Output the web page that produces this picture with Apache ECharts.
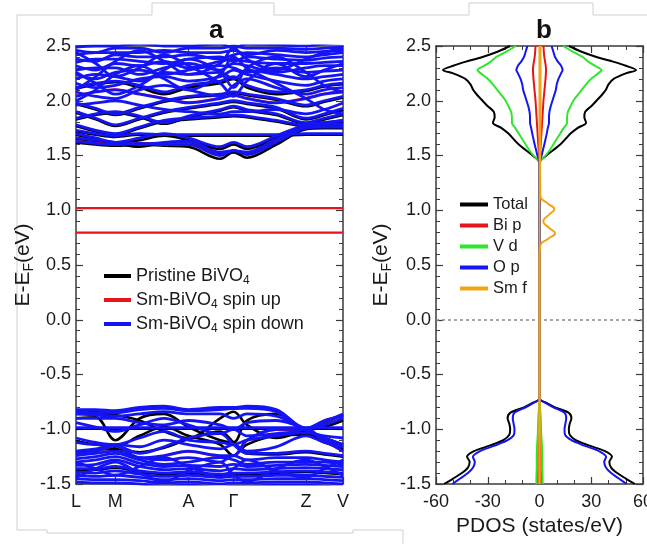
<!DOCTYPE html>
<html lang="en">
<head>
  <meta charset="UTF-8">
  <title>Band structure and PDOS</title>
  <script src="https://cdn.jsdelivr.net/npm/echarts@6/dist/echarts.min.js"></script>
  <style>
    html, body { margin: 0; padding: 0; background: #fff; }
    #chart { width: 647px; height: 544px; }
  </style>
</head>
<body>
  <div id="chart"></div>
  <script>
    // k-path (fraction of path length) and high-symmetry points
    const kPath = [0, 0.074, 0.147, 0.238, 0.33, 0.421, 0.54, 0.59, 0.64, 0.75, 0.861, 0.93, 1.0];
    const kTicks = [0, 0.147, 0.421, 0.59, 0.861, 1.0];
    const kLabels = ['L', 'M', 'A', 'Γ', 'Z', 'V'];

    // Sm-BiVO4 spin down bands (blue)
    const downBands = [
      [1.63, 1.61, 1.60, 1.61, 1.60, 1.60, 1.50, 1.545, 1.51, 1.62, 1.75, 1.76, 1.76],
      [1.66, 1.64, 1.62, 1.60, 1.62, 1.63, 1.53, 1.545, 1.53, 1.65, 1.76, 1.78, 1.79],
      [1.70, 1.66, 1.62, 1.66, 1.70, 1.66, 1.58, 1.62, 1.58, 1.68, 1.78, 1.80, 1.82],
      [1.73, 1.70, 1.68, 1.70, 1.69, 1.69, 1.69, 1.69, 1.69, 1.69, 1.70, 1.70, 1.70],
      [1.78, 1.73, 1.70, 1.76, 1.82, 1.84, 1.86, 1.87, 1.86, 1.82, 1.78, 1.80, 1.82],
      [1.84, 1.88, 1.90, 1.86, 1.80, 1.86, 1.92, 1.95, 1.92, 1.88, 1.80, 1.84, 1.88],
      [1.90, 1.84, 1.78, 1.84, 1.90, 1.94, 1.98, 2.00, 1.98, 1.94, 1.84, 1.88, 1.93],
      [1.96, 1.98, 2.00, 1.96, 1.92, 1.90, 1.88, 1.90, 1.90, 1.92, 1.88, 1.92, 1.98],
      [1.98, 1.93, 1.88, 1.94, 2.00, 2.04, 2.06, 2.08, 2.06, 2.02, 1.96, 2.00, 2.04],
      [2.04, 2.08, 2.10, 2.06, 2.02, 1.98, 2.02, 2.05, 2.02, 1.98, 2.02, 2.06, 2.08],
      [2.08, 2.04, 2.02, 2.10, 2.14, 2.10, 2.04, 2.14, 2.20, 2.12, 2.06, 2.10, 2.12],
      [2.12, 2.16, 2.18, 2.14, 2.08, 2.14, 2.18, 2.22, 2.14, 2.08, 2.10, 2.14, 2.16],
      [2.16, 2.12, 2.14, 2.20, 2.22, 2.18, 2.22, 2.28, 2.24, 2.18, 2.14, 2.18, 2.20],
      [2.20, 2.24, 2.22, 2.18, 2.26, 2.24, 2.26, 2.20, 2.28, 2.24, 2.20, 2.22, 2.24],
      [2.24, 2.20, 2.26, 2.28, 2.24, 2.28, 2.32, 2.30, 2.26, 2.30, 2.26, 2.27, 2.28],
      [2.28, 2.30, 2.30, 2.24, 2.30, 2.34, 2.28, 2.34, 2.32, 2.26, 2.30, 2.32, 2.32],
      [2.32, 2.28, 2.34, 2.32, 2.36, 2.30, 2.36, 2.38, 2.36, 2.34, 2.34, 2.35, 2.36],
      [2.35, 2.38, 2.38, 2.36, 2.34, 2.38, 2.40, 2.36, 2.40, 2.38, 2.37, 2.39, 2.40],
      [2.38, 2.36, 2.42, 2.40, 2.40, 2.42, 2.38, 2.42, 2.44, 2.42, 2.40, 2.42, 2.44],
      [2.42, 2.44, 2.44, 2.44, 2.46, 2.44, 2.44, 2.46, 2.42, 2.46, 2.44, 2.45, 2.46],
      [2.46, 2.44, 2.48, 2.48, 2.44, 2.48, 2.48, 2.50, 2.48, 2.48, 2.47, 2.48, 2.49],
      [2.49, 2.50, 2.50, 2.52, 2.50, 2.50, 2.52, 2.48, 2.52, 2.51, 2.50, 2.52, 2.53],
      [2.00, 2.10, 2.24, 2.32, 2.20, 2.10, 2.24, 2.40, 2.30, 2.16, 2.02, 1.92, 1.88],
      [2.26, 2.16, 2.06, 2.14, 2.28, 2.38, 2.26, 2.12, 2.30, 2.40, 2.26, 2.14, 2.08],
      [2.44, 2.34, 2.22, 2.30, 2.42, 2.32, 2.16, 2.04, 2.18, 2.34, 2.22, 2.28, 2.34],
      [2.10, 2.22, 2.36, 2.46, 2.36, 2.24, 2.34, 2.48, 2.38, 2.28, 2.38, 2.44, 2.48],
      [-0.82, -0.82, -0.83, -0.80, -0.79, -0.82, -0.80, -0.80, -0.79, -0.82, -0.99, -0.93, -0.86],
      [-0.84, -0.85, -0.85, -0.82, -0.81, -0.83, -0.82, -0.81, -0.81, -0.84, -1.00, -0.96, -0.90],
      [-0.86, -0.87, -0.88, -0.86, -0.84, -0.86, -0.86, -0.90, -0.86, -0.88, -1.01, -1.08, -1.14],
      [-0.90, -0.90, -0.90, -0.94, -0.96, -0.92, -0.96, -1.00, -0.94, -0.92, -1.00, -1.10, -1.16],
      [-0.985, -0.985, -0.985, -0.985, -0.985, -0.985, -0.985, -0.985, -0.985, -0.985, -0.985, -0.985, -0.985],
      [-0.94, -0.98, -1.02, -0.96, -0.90, -0.96, -1.04, -1.00, -1.06, -1.04, -1.00, -0.92, -0.88],
      [-1.08, -1.12, -1.14, -1.08, -1.02, -1.10, -1.12, -1.14, -1.10, -1.06, -1.03, -1.06, -1.08],
      [-1.12, -1.14, -1.14, -1.16, -1.10, -1.14, -1.18, -1.14, -1.20, -1.16, -1.06, -1.12, -1.16],
      [-1.20, -1.18, -1.15, -1.22, -1.16, -1.08, -1.04, -1.14, -1.22, -1.22, -1.20, -1.22, -1.24],
      [-1.22, -1.20, -1.15, -1.26, -1.24, -1.20, -1.24, -1.24, -1.10, -1.00, -1.00, -1.10, -1.20],
      [-1.24, -1.22, -1.20, -1.26, -1.28, -1.26, -1.30, -1.24, -1.28, -1.26, -1.26, -1.28, -1.30],
      [-1.27, -1.25, -1.22, -1.28, -1.32, -1.30, -1.26, -1.28, -1.32, -1.30, -1.30, -1.30, -1.32],
      [-1.30, -1.28, -1.25, -1.31, -1.34, -1.33, -1.34, -1.32, -1.34, -1.33, -1.32, -1.33, -1.34],
      [-1.33, -1.32, -1.28, -1.34, -1.37, -1.36, -1.38, -1.36, -1.37, -1.36, -1.35, -1.36, -1.37],
      [-1.36, -1.36, -1.34, -1.38, -1.40, -1.39, -1.41, -1.40, -1.40, -1.39, -1.38, -1.39, -1.40],
      [-1.39, -1.40, -1.38, -1.41, -1.43, -1.42, -1.44, -1.43, -1.43, -1.42, -1.42, -1.43, -1.44],
      [-1.42, -1.43, -1.42, -1.44, -1.46, -1.45, -1.47, -1.46, -1.46, -1.45, -1.45, -1.46, -1.47],
      [-1.45, -1.46, -1.46, -1.47, -1.49, -1.48, -1.50, -1.49, -1.49, -1.48, -1.48, -1.49, -1.50],
      [-1.48, -1.49, -1.49, -1.50, -1.52, -1.51, -1.53, -1.52, -1.52, -1.51, -1.51, -1.52, -1.53],
      [-1.30, -1.36, -1.42, -1.34, -1.26, -1.34, -1.44, -1.36, -1.28, -1.38, -1.44, -1.36, -1.28],
      [-1.44, -1.36, -1.30, -1.40, -1.48, -1.38, -1.30, -1.42, -1.48, -1.36, -1.28, -1.34, -1.42]
    ];

    // Pristine BiVO4 bands (black)
    const pristineBands = [
      [1.62, 1.60, 1.59, 1.60, 1.59, 1.58, 1.47, 1.53, 1.48, 1.60, 1.74, 1.75, 1.75],
      [1.65, 1.63, 1.61, 1.58, 1.61, 1.61, 1.51, 1.53, 1.51, 1.63, 1.75, 1.77, 1.78],
      [1.69, 1.65, 1.61, 1.64, 1.68, 1.64, 1.56, 1.60, 1.56, 1.66, 1.77, 1.79, 1.81],
      [1.72, 1.69, 1.67, 1.69, 1.68, 1.68, 1.68, 1.68, 1.68, 1.68, 1.69, 1.69, 1.69],
      [1.77, 1.72, 1.69, 1.75, 1.81, 1.83, 1.85, 1.86, 1.85, 1.81, 1.77, 1.79, 1.81],
      [1.83, 1.87, 1.89, 1.85, 1.79, 1.85, 1.91, 1.94, 1.91, 1.87, 1.79, 1.83, 1.87],
      [1.89, 1.83, 1.77, 1.83, 1.89, 1.93, 1.97, 1.99, 1.97, 1.93, 1.83, 1.87, 1.92],
      [1.97, 1.92, 1.87, 1.93, 1.99, 2.03, 2.05, 2.07, 2.05, 2.01, 1.95, 1.99, 2.03],
      [2.11, 2.15, 2.17, 2.12, 2.06, 2.12, 2.16, 2.20, 2.12, 2.06, 2.09, 2.13, 2.15],
      [-0.83, -0.83, -0.84, -0.81, -0.80, -0.83, -0.81, -0.81, -0.80, -0.83, -1.00, -0.94, -0.87],
      [-0.86, -0.86, -0.87, -0.92, -1.02, -1.08, -0.90, -0.84, -0.96, -1.08, -1.01, -0.98, -0.92],
      [-0.90, -0.89, -1.10, -0.90, -0.86, -0.98, -1.10, -1.12, -0.92, -0.86, -1.02, -1.08, -1.14],
      [-0.995, -0.995, -0.995, -0.995, -0.995, -0.995, -0.995, -0.995, -0.995, -0.995, -0.995, -0.995, -0.995],
      [-1.11, -1.14, -1.16, -1.06, -0.98, -1.06, -1.14, -1.24, -1.14, -1.06, -1.05, -1.12, -1.18],
      [-1.21, -1.19, -1.18, -1.21, -1.17, -1.09, -1.02, -1.12, -1.22, -1.23, -1.21, -1.23, -1.25],
      [-1.37, -1.37, -1.35, -1.39, -1.41, -1.40, -1.42, -1.41, -1.41, -1.40, -1.39, -1.40, -1.41]
    ];

    // Sm-BiVO4 spin up bands (red), incl. the two Sm f gap states
    const upBands = [
      [1.02, 1.02, 1.02, 1.02, 1.02, 1.02, 1.02, 1.02, 1.02, 1.02, 1.02, 1.02, 1.02],
      [0.795, 0.795, 0.795, 0.795, 0.795, 0.795, 0.795, 0.795, 0.795, 0.795, 0.795, 0.795, 0.795],
      [1.635, 1.615, 1.605, 1.615, 1.605, 1.605, 1.505, 1.55, 1.515, 1.625, 1.755, 1.765, 1.765],
      [2.045, 2.085, 2.105, 2.065, 2.025, 1.985, 2.025, 2.055, 2.025, 1.985, 2.025, 2.065, 2.085],
      [-0.825, -0.825, -0.835, -0.805, -0.795, -0.825, -0.805, -0.805, -0.795, -0.825, -0.995, -0.935, -0.865],
      [-1.225, -1.205, -1.155, -1.265, -1.245, -1.205, -1.245, -1.245, -1.105, -1.005, -1.005, -1.105, -1.205]
    ];

    // PDOS energy grid (eV) and projected DOS (states/eV), spin up side
    const dosE = [-1.50, -1.45, -1.40, -1.35, -1.30, -1.25, -1.20, -1.15, -1.10, -1.05, -1.00, -0.95, -0.90, -0.85, -0.80, -0.76, -0.72,
      0.60, 0.68, 0.74, 0.79, 0.84, 0.90, 0.96, 1.01, 1.06, 1.13,
      1.43, 1.50, 1.55, 1.60, 1.65, 1.70, 1.75, 1.80, 1.85, 1.90, 1.95, 2.00, 2.05, 2.10, 2.15, 2.20, 2.25, 2.28, 2.32, 2.36, 2.40, 2.45, 2.50];
    const totalDos = [55.4, 50, 45, 41.5, 40.5, 42, 38, 29, 21, 17.5, 17, 17.5, 18.5, 17, 9, 4, 0,
      0, 0, 0, 0, 0, 0, 0, 0, 0, 0,
      0, 4, 8, 12, 15, 18, 22, 27, 26, 26.5, 30, 33, 36, 38.5, 40, 43, 50, 56, 50, 42, 33, 24, 17];
    const biDos = [0.8, 0.8, 0.8, 0.7, 0.7, 0.7, 0.6, 0.6, 0.5, 0.5, 0.4, 0.4, 0.3, 0.3, 0.2, 0.1, 0,
      0, 0, 0, 0, 0, 0, 0, 0, 0, 0,
      0, 0.3, 0.5, 0.7, 0.9, 1.1, 1.3, 1.5, 1.7, 1.9, 2.1, 2.3, 2.6, 2.9, 3.2, 3.5, 3.7, 3.8, 3.6, 3.2, 2.8, 2.5, 2.3];
    const vDos = [1.8, 1.8, 1.7, 1.6, 1.6, 1.6, 1.5, 1.4, 1.2, 1.0, 0.9, 0.8, 0.7, 0.5, 0.3, 0.1, 0,
      0, 0, 0, 0, 0, 0, 0, 0, 0, 0,
      0, 3.5, 6, 8, 10, 12, 14, 16, 16, 16.5, 18, 19.6, 22, 24.5, 27, 30, 34, 36, 32, 28, 25, 19, 13.7];
    const oDos = [50.5, 46, 41.5, 38.5, 37.5, 38.6, 34.5, 26, 18.5, 14.8, 14.5, 15, 15.5, 14.5, 8, 3.5, 0,
      0, 0, 0, 0, 0, 0, 0, 0, 0, 0,
      0, 1.2, 2, 2.8, 3.5, 4.2, 4.8, 5.5, 5.5, 5.8, 6.5, 7.5, 8.5, 9.5, 10, 11, 12.5, 13.4, 12.5, 10.5, 9, 8, 7];
    const smUpDos = [0, 0, 0, 0, 0, 0, 0, 0, 0, 0, 0, 0, 0, 0, 0, 0, 0,
      0, 0.5, 5, 9, 5.5, 2.2, 5.5, 8.6, 5, 0.5,
      0.3, 0.4, 0.4, 0.5, 0.5, 0.5, 0.5, 0.6, 0.6, 0.6, 0.6, 0.6, 0.6, 0.6, 0.6, 0.6, 0.6, 0.6, 0.6, 0.6, 0.6, 0.6, 0.6];
    const smDownDos = [0, 0, 0, 0, 0, 0, 0, 0, 0, 0, 0, 0, 0, 0, 0, 0, 0,
      0, 0, 0, 0, 0, 0, 0, 0, 0, 0,
      0, 0, 0, 0, 0, 0, 0, 0, 0, 0, 0, 0, 0, 0, 0, 0, 0, 0, 0, 0, 0, 0, 0];

    const yTicks = { min: -1.5, max: 2.5, interval: 0.5 };
    const pdosTicks = { min: -60, max: 60, interval: 30 };

    const FONT = '"Liberation Sans", Arial, sans-serif';
    const AX = '#3a3a3a';
    const TXT = '#1a1a1a';
    const C = { black: '#000000', red: '#e8141c', blue: '#1414f5', green: '#2ee62e', orange: '#f2a414' };

    const chart = echarts.init(document.getElementById('chart'));

    const subRich = {
      n: { fontSize: 18, fontFamily: FONT, color: TXT },
      s: { fontSize: 12, fontFamily: FONT, color: TXT, padding: [10, 0, 0, 0] }
    };
    const nameRich = {
      n: { fontSize: 21, fontFamily: FONT, color: TXT },
      s: { fontSize: 14, fontFamily: FONT, color: TXT, padding: [12, 0, 0, 0] }
    };
    const bandLegendText = {
      'Pristine BiVO4': '{n|Pristine BiVO}{s|4}',
      'Sm-BiVO4 spin up': '{n|Sm-BiVO}{s|4}{n| spin up}',
      'Sm-BiVO4 spin down': '{n|Sm-BiVO}{s|4}{n| spin down}'
    };

    function yAxisFor(gridIndex, side, withLabel) {
      return {
        type: 'value', gridIndex, position: side, ...yTicks,
        axisLine: { show: true, onZero: false, lineStyle: { color: AX, width: 1.5 } },
        axisTick: { show: true, inside: true, length: 7, lineStyle: { color: AX, width: 1.2 } },
        minorTick: { show: true, splitNumber: 5, length: 4, lineStyle: { color: AX, width: 1 } },
        splitLine: { show: false },
        axisLabel: withLabel ? { show: true, fontSize: 18, fontFamily: FONT, color: TXT, margin: 5,
          formatter: v => v.toFixed(1) } : { show: false },
        name: withLabel ? '{n|E-E}{s|F}{n|(eV)}' : '',
        nameLocation: 'middle', nameGap: 39,
        nameTextStyle: { rich: nameRich }
      };
    }

    const bandLine = (name, color, band, width) => ({
      type: 'line', name, xAxisIndex: 0, yAxisIndex: 0,
      data: kPath.map((k, i) => [k, band[i]]),
      smooth: 0.35, showSymbol: false, silent: true,
      lineStyle: { color, width }, itemStyle: { color }
    });

    const dosLine = (name, color, values, sign, z, smooth) => ({
      type: 'line', name, xAxisIndex: 2, yAxisIndex: 2,
      data: dosE.map((e, i) => [sign * values[i], e]),
      smooth, showSymbol: false, silent: true, z,
      lineStyle: { color, width: 2 }, itemStyle: { color }
    });

    const series = [];
    pristineBands.forEach(b => series.push(bandLine('Pristine BiVO4', C.black, b, 2.6)));
    upBands.forEach(b => series.push(bandLine('Sm-BiVO4 spin up', C.red, b, 2.2)));
    downBands.forEach(b => series.push(bandLine('Sm-BiVO4 spin down', C.blue, b, 2.8)));

    const species = [
      ['Total', C.black, totalDos, totalDos],
      ['Bi p', C.red, biDos, biDos],
      ['V d', C.green, vDos, vDos],
      ['O p', C.blue, oDos, oDos],
      ['Sm f', C.orange, smUpDos, smDownDos]
    ];
    species.forEach(([name, color, up, down], i) => {
      const sm = name === 'Sm f' ? 0.5 : 0.3;
      series.push(dosLine(name, color, up, 1, 2 + i, sm));
      series.push(dosLine(name, color, down, -1, 2 + i, sm));
    });
    // Fermi level
    series[series.length - 1].markLine = {
      silent: true, symbol: 'none', label: { show: false },
      lineStyle: { color: '#8a8a8a', type: [3, 3], width: 1.5 },
      data: [{ yAxis: 0 }]
    };

    const gridBase = { top: 46, height: 438, outerBoundsMode: 'none', containLabel: false };

    const option = {
      animation: false,
      backgroundColor: '#fff',
      title: [
        { text: 'a', left: 204, top: 13, textStyle: { fontSize: 26, fontWeight: 'bold', fontFamily: FONT, color: '#111' } },
        { text: 'b', left: 531, top: 13, textStyle: { fontSize: 26, fontWeight: 'bold', fontFamily: FONT, color: '#111' } }
      ],
      grid: [
        { ...gridBase, left: 76, width: 267 },
        { ...gridBase, left: 76, width: 267 },
        { ...gridBase, left: 436, width: 207 },
        { ...gridBase, left: 436, width: 207 }
      ],
      legend: [
        {
          data: ['Pristine BiVO4', 'Sm-BiVO4 spin up', 'Sm-BiVO4 spin down'],
          left: 99, top: 262, orient: 'vertical', icon: 'rect', itemWidth: 27, itemHeight: 4, itemGap: 4,
          selectedMode: false, formatter: n => bandLegendText[n],
          textStyle: { fontSize: 18, fontFamily: FONT, color: TXT, rich: subRich }
        },
        {
          data: ['Total', 'Bi p', 'V d', 'O p', 'Sm f'],
          left: 455, top: 191, orient: 'vertical', icon: 'rect', itemWidth: 28, itemHeight: 4, itemGap: 4,
          selectedMode: false,
          textStyle: { fontSize: 16.5, fontFamily: FONT, color: TXT }
        }
      ],
      xAxis: [
        {
          type: 'value', gridIndex: 0, min: 0, max: 1, position: 'bottom',
          axisLine: { show: true, onZero: false, lineStyle: { color: AX, width: 1.5 } },
          axisTick: { show: true, inside: true, length: 7, customValues: kTicks, lineStyle: { color: AX, width: 1.2 } },
          splitLine: { show: false },
          axisLabel: { show: true, customValues: kTicks, fontSize: 18, fontFamily: FONT, color: TXT, margin: 9,
            formatter: v => kLabels[kTicks.indexOf(v)] }
        },
        {
          type: 'value', gridIndex: 1, min: 0, max: 1, position: 'top',
          axisLine: { show: true, onZero: false, lineStyle: { color: AX, width: 1.5 } },
          axisTick: { show: true, inside: true, length: 7, customValues: kTicks.slice(1, -1), lineStyle: { color: AX, width: 1.2 } },
          splitLine: { show: false }, axisLabel: { show: false }
        },
        {
          type: 'value', gridIndex: 2, position: 'bottom', ...pdosTicks,
          axisLine: { show: true, onZero: false, lineStyle: { color: AX, width: 1.5 } },
          axisTick: { show: true, inside: true, length: 7, lineStyle: { color: AX, width: 1.2 } },
          minorTick: { show: true, splitNumber: 3, length: 4, lineStyle: { color: AX, width: 1 } },
          splitLine: { show: false },
          axisLabel: { show: true, fontSize: 18, fontFamily: FONT, color: TXT, margin: 9 },
          name: 'PDOS (states/eV)', nameLocation: 'middle', nameGap: 28,
          nameTextStyle: { fontSize: 21, fontFamily: FONT, color: TXT }
        },
        {
          type: 'value', gridIndex: 3, position: 'top', ...pdosTicks,
          axisLine: { show: true, onZero: false, lineStyle: { color: AX, width: 1.5 } },
          axisTick: { show: true, inside: true, length: 7, lineStyle: { color: AX, width: 1.2 } },
          minorTick: { show: true, splitNumber: 3, length: 4, lineStyle: { color: AX, width: 1 } },
          splitLine: { show: false }, axisLabel: { show: false }
        }
      ],
      yAxis: [
        yAxisFor(0, 'left', true),
        yAxisFor(1, 'right', false),
        Object.assign(yAxisFor(2, 'left', true), { nameGap: 42 }),
        yAxisFor(3, 'right', false)
      ],
      graphic: [
        { type: 'polyline', silent: true, shape: { points: [[17, 530], [17, 15], [152, 15], [152, 3], [274, 3], [274, 15], [469, 15], [469, 3], [593, 3], [593, 15], [647, 15]] },
          style: { stroke: '#cfcfcf', lineWidth: 1, fill: null } },
        { type: 'polyline', silent: true, shape: { points: [[17, 530], [47, 530], [47, 533], [353, 533], [353, 530], [403, 530], [403, 544]] },
          style: { stroke: '#cfcfcf', lineWidth: 1, fill: null } }
      ],
      series
    };

    chart.setOption(option);
  </script>
</body>
</html>
